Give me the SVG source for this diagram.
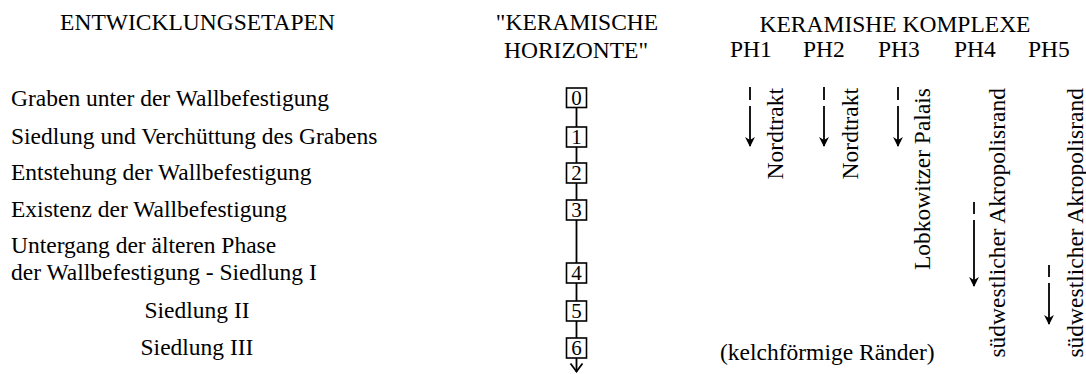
<svg xmlns="http://www.w3.org/2000/svg" width="1086" height="374" viewBox="0 0 1086 374">
<style>
text{font-family:"Liberation Serif","Times New Roman",serif;font-size:23.5px;fill:#000}
.mid{text-anchor:middle}
.num{font-size:21px;text-anchor:middle}
.box{fill:#fff;stroke:#000;stroke-width:1.6}
.ln{stroke:#000;stroke-width:1.8;fill:none}
.rot{text-anchor:end}
</style>
<defs>
<marker id="ah" viewBox="0 0 10 10" refX="9" refY="5" markerWidth="5.5" markerHeight="6" orient="auto" markerUnits="strokeWidth">
<path d="M0,0 L10,5 L0,10 L3,5 Z" fill="#000"/>
</marker>
</defs>
<rect width="1086" height="374" fill="#fff"/>
<g id="headers">
<text class="mid" x="197.5" y="30">ENTWICKLUNGSETAPEN</text>
<text class="mid" x="577" y="30">"KERAMISCHE</text>
<text class="mid" x="576" y="58">HORIZONTE"</text>
<text class="mid" x="895" y="32">KERAMISHE KOMPLEXE</text>
<text x="730" y="57">PH1</text>
<text x="803" y="57">PH2</text>
<text x="878" y="57">PH3</text>
<text x="954" y="57">PH4</text>
<text x="1028" y="57">PH5</text>
</g>
<g id="stages">
<text x="11" y="106">Graben unter der Wallbefestigung</text>
<text x="11" y="144">Siedlung und Verchüttung des Grabens</text>
<text x="11" y="180">Entstehung der Wallbefestigung</text>
<text x="11" y="217">Existenz der Wallbefestigung</text>
<text x="11" y="253">Untergang der älteren Phase</text>
<text x="11" y="280">der Wallbefestigung - Siedlung I</text>
<text class="mid" x="197" y="318">Siedlung II</text>
<text class="mid" x="197" y="355">Siedlung III</text>
</g>
<g id="connectors">
<line class="ln" x1="576.5" y1="107" x2="576.5" y2="372"/>
<path class="ln" d="M570.5,363.5 L576.5,371.5 L582.5,363.5" stroke-width="3"/>
<line class="ln" x1="750" y1="87" x2="750" y2="100"/>
<line class="ln" x1="750" y1="106" x2="750" y2="146" marker-end="url(#ah)"/>
<line class="ln" x1="824" y1="87" x2="824" y2="100"/>
<line class="ln" x1="824" y1="106" x2="824" y2="146" marker-end="url(#ah)"/>
<line class="ln" x1="898" y1="87" x2="898" y2="100"/>
<line class="ln" x1="898" y1="106" x2="898" y2="146" marker-end="url(#ah)"/>
<line class="ln" x1="974" y1="202" x2="974" y2="214"/>
<line class="ln" x1="974" y1="220" x2="974" y2="286" marker-end="url(#ah)"/>
<line class="ln" x1="1049" y1="265" x2="1049" y2="277"/>
<line class="ln" x1="1049" y1="283" x2="1049" y2="324" marker-end="url(#ah)"/>
</g>
<g id="h0"><rect class="box" x="566.5" y="88" width="20" height="19.5"/><text class="num" x="576.5" y="104.5">0</text></g>
<g id="h1"><rect class="box" x="566.5" y="127" width="20" height="20"/><text class="num" x="576.5" y="144">1</text></g>
<g id="h2"><rect class="box" x="566.5" y="163" width="20" height="20"/><text class="num" x="576.5" y="180">2</text></g>
<g id="h3"><rect class="box" x="566.5" y="200" width="20" height="20"/><text class="num" x="576.5" y="217">3</text></g>
<g id="h4"><rect class="box" x="566.5" y="263" width="20" height="20"/><text class="num" x="576.5" y="280">4</text></g>
<g id="h5"><rect class="box" x="566.5" y="301" width="20" height="20"/><text class="num" x="576.5" y="318">5</text></g>
<g id="h6"><rect class="box" x="566.5" y="338" width="20" height="20"/><text class="num" x="576.5" y="355">6</text></g>
<g id="complexes">
<text class="rot" transform="translate(783,88) rotate(-90)">Nordtrakt</text>
<text class="rot" transform="translate(858,88) rotate(-90)">Nordtrakt</text>
<text class="rot" transform="translate(930,88) rotate(-90)">Lobkowitzer Palais</text>
<text class="rot" transform="translate(1005,88) rotate(-90)">südwestlicher Akropolisrand</text>
<text class="rot" transform="translate(1083,88) rotate(-90)">südwestlicher Akropolisrand</text>
<text x="720" y="360">(kelchförmige Ränder)</text>
</g>
</svg>
